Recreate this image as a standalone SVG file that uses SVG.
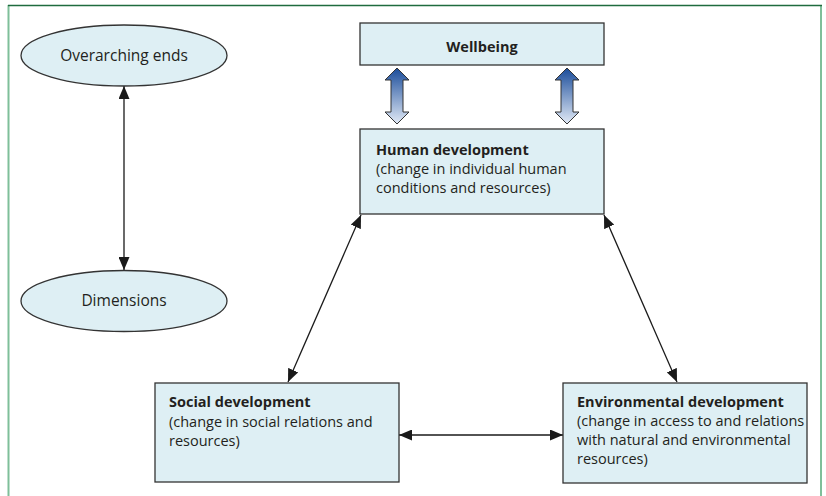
<svg xmlns="http://www.w3.org/2000/svg" width="826" height="496" viewBox="0 0 826 496">
<defs>
<style>
.box{fill:#deeff4;stroke:#333;stroke-width:1.3}
.t{font-family:"Open Sans","Noto Sans",sans-serif;font-size:14.5px;fill:#231f20}
.e{font-size:15.5px}
.b{font-weight:bold}
.c{text-anchor:middle}
.con{stroke:#1a1a1a;stroke-width:1.3;fill:none;marker-start:url(#ah);marker-end:url(#ah)}
.blk{fill:url(#bg);stroke:#333;stroke-width:1}
</style>
<marker id="ah" viewBox="0 0 13 11" refX="13" refY="5.5" markerWidth="13" markerHeight="11" markerUnits="userSpaceOnUse" orient="auto-start-reverse">
<path d="M0,0 L13,5.5 L0,11 z" fill="#1a1a1a"/>
</marker>
<linearGradient id="bg" x1="0" y1="0" x2="0" y2="1">
<stop offset="0" stop-color="#1a4c9a"/>
<stop offset="1" stop-color="#e2eaf6"/>
</linearGradient>
</defs>
<g id="frame">
<line x1="8.5" y1="5" x2="8.5" y2="496" stroke="#7fbf9a" stroke-width="2"/>
<line x1="821" y1="5" x2="821" y2="496" stroke="#7fbf9a" stroke-width="2"/>
<line x1="8" y1="5.5" x2="822" y2="5.5" stroke="#1f6b3f" stroke-width="1.5"/>
</g>
<g id="connectors">
<line class="con" x1="124" y1="86" x2="124" y2="270"/>
<line class="con" x1="361" y1="215" x2="288" y2="382"/>
<line class="con" x1="604" y1="215" x2="677" y2="382"/>
<line class="con" x1="399" y1="435" x2="563" y2="435"/>
<polygon class="blk" points="397,68 409,80 403,80 403,112 409,112 397,124 385,112 391,112 391,80 385,80"/>
<polygon class="blk" points="567,68 579,80 573,80 573,112 579,112 567,124 555,112 561,112 561,80 555,80"/>
</g>
<g id="overarching">
<ellipse class="box" cx="124" cy="55.5" rx="103" ry="30.5"/>
<text class="t e c" x="124" y="61">Overarching ends</text>
</g>
<g id="dimensions">
<ellipse class="box" cx="124" cy="301" rx="103" ry="30.5"/>
<text class="t e c" x="124" y="306">Dimensions</text>
</g>
<g id="wellbeing">
<rect class="box" x="360" y="23" width="244" height="42"/>
<text class="t b c" x="482" y="52">Wellbeing</text>
</g>
<g id="human">
<rect class="box" x="360" y="129" width="244" height="85"/>
<text class="t" x="376" y="155"><tspan class="b">Human development</tspan><tspan x="376" dy="19">(change in individual human</tspan><tspan x="376" dy="19">conditions and resources)</tspan></text>
</g>
<g id="social">
<rect class="box" x="155" y="383" width="244" height="99"/>
<text class="t" x="169" y="407"><tspan class="b">Social development</tspan><tspan x="169" dy="20">(change in social relations and</tspan><tspan x="169" dy="19">resources)</tspan></text>
</g>
<g id="environmental">
<rect class="box" x="563" y="383" width="244" height="100"/>
<text class="t" x="577" y="407"><tspan class="b">Environmental development</tspan><tspan x="577" dy="19">(change in access to and relations</tspan><tspan x="577" dy="19">with natural and environmental</tspan><tspan x="577" dy="19">resources)</tspan></text>
</g>
</svg>
